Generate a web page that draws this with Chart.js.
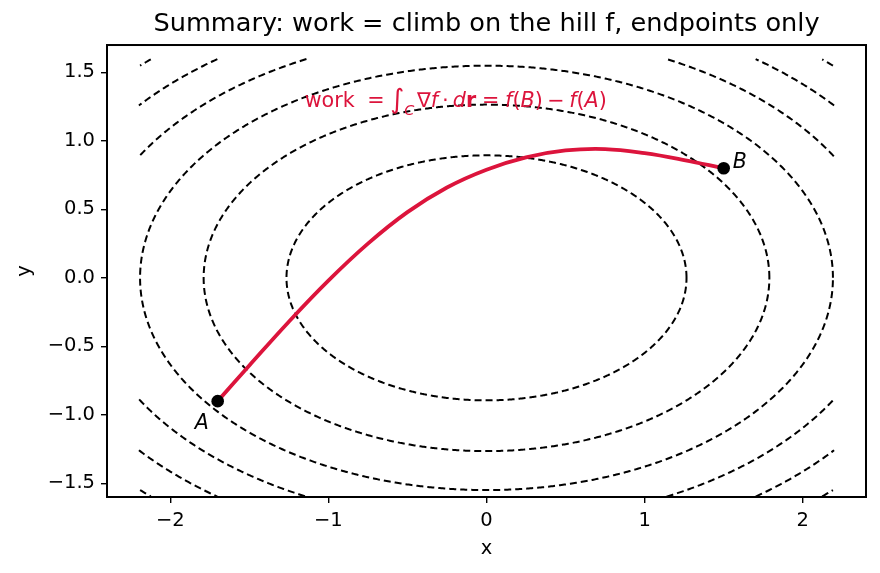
<!DOCTYPE html>
<html>
<head>
<meta charset="utf-8">
<script src="https://cdn.jsdelivr.net/npm/chart.js@4.4.1/dist/chart.umd.min.js"></script>
<style>
  html, body { margin: 0; padding: 0; background: #fff; }
  canvas { display: block; }
</style>
</head>
<body>
<canvas id="hillChart" width="880" height="573"></canvas>
<script>
// tick labels
const xTicks = [-2, -1, 0, 1, 2];
const yTicks = [-1.5, -1.0, -0.5, 0.0, 0.5, 1.0, 1.5];

// the path C
const pathX = [-1.70, -1.50, -1.25, -1.00, -0.75, -0.50, -0.25, 0.00, 0.25, 0.50, 0.75, 1.00, 1.25, 1.50];
const pathY = [-0.90, -0.64, -0.32, -0.02, 0.25, 0.48, 0.66, 0.79, 0.88, 0.93, 0.94, 0.91, 0.86, 0.80];

// endpoints
const endX = [-1.7, 1.5];
const endY = [-0.9, 0.8];
const endNames = ['A', 'B'];

// contour levels of f = x^2 + 2 y^2 (axes ratio read from the ellipses)
const levels = [1.6, 3.2, 4.8, 6.4, 8.0, 9.6];
const yWeight = 2;
const gridX = [-2.2, 2.2];
const gridY = [-1.6, 1.6];

const red = '#dc143c';
const fontFam = '"DejaVu Sans"';
const tickSize = 19.5;

function levelLine(level) {
  const pts = [];
  const rx = Math.sqrt(level), ry = Math.sqrt(level / yWeight);
  const n = 1440;
  for (let i = 0; i <= n; i++) {
    const t = 2 * Math.PI * i / n;
    const px = rx * Math.cos(t), py = ry * Math.sin(t);
    const inside = px >= gridX[0] && px <= gridX[1] && py >= gridY[0] && py <= gridY[1];
    pts.push(inside ? { x: px, y: py } : { x: px, y: null });
  }
  return pts;
}

const contourSets = levels.map(lv => ({
  data: levelLine(lv),
  showLine: true,
  spanGaps: false,
  borderColor: '#000',
  borderWidth: 2,
  borderDash: [7, 4],
  pointRadius: 0,
  order: 3
}));

// text of the annotation: text, style, size factor, drop (em), space after (em)
const formula = [
  ['work', '', 1, 0, 0.6],
  ['=', '', 1, 0, 0.28],
  ['\u222B', '', 1.3, 0.06, 0],
  ['C', 'italic ', 0.7, 0.42, 0.12],
  ['\u2207', '', 1, 0, 0],
  ['f', 'italic ', 1, 0, 0.2],
  ['\u22C5', '', 1, 0, 0.2],
  ['d', 'italic ', 1, 0, 0],
  ['r', 'bold ', 1, 0, 0.28],
  ['=', '', 1, 0, 0.28],
  ['f', 'italic ', 1, 0, 0],
  ['(', '', 1, 0, 0],
  ['B', 'italic ', 1, 0, 0],
  [')', '', 1, 0, 0.22],
  ['\u2212', '', 1, 0, 0.22],
  ['f', 'italic ', 1, 0, 0],
  ['(', '', 1, 0, 0],
  ['A', 'italic ', 1, 0, 0],
  [')', '', 1, 0, 0]
];
const noteX = -1.15, noteY = 1.25, noteSize = 20.7;
const nameOffsets = [[-23, 28], [9, 0]];

const overlay = {
  id: 'overlay',
  afterDatasetsDraw(chart) {
    const { ctx, scales: { x, y } } = chart;
    ctx.save();
    ctx.textBaseline = 'alphabetic';
    ctx.textAlign = 'left';

    ctx.fillStyle = '#000';
    ctx.font = 'italic 20.5px ' + fontFam;
    endNames.forEach((name, i) => {
      const px = x.getPixelForValue(endX[i]), py = y.getPixelForValue(endY[i]);
      ctx.fillText(name, px + nameOffsets[i][0], py + nameOffsets[i][1]);
    });

    let cx = x.getPixelForValue(noteX);
    const by = y.getPixelForValue(noteY);
    ctx.fillStyle = red;
    formula.forEach(([t, style, k, drop, after]) => {
      ctx.font = style + (noteSize * k) + 'px ' + fontFam;
      ctx.fillText(t, cx, by + drop * noteSize);
      cx += ctx.measureText(t).width + after * noteSize;
    });
    ctx.restore();
  },
  afterDraw(chart) {
    const { ctx, chartArea: a } = chart;
    ctx.save();
    ctx.strokeStyle = '#000';
    ctx.lineWidth = 2;
    ctx.strokeRect(a.left, a.top, a.right - a.left, a.bottom - a.top);
    ctx.restore();
  }
};

Chart.defaults.font.family = fontFam;
Chart.defaults.color = '#000';

const ctx = document.getElementById('hillChart').getContext('2d');
const hillChart = new Chart(ctx, {
  type: 'scatter',
  data: {
    datasets: [
      ...contourSets,
      {
        data: pathX.map((v, i) => ({ x: v, y: pathY[i] })),
        showLine: true,
        borderColor: red,
        borderWidth: 3.8,
        tension: 0.4,
        pointRadius: 0,
        order: 2
      },
      {
        data: endX.map((v, i) => ({ x: v, y: endY[i] })),
        showLine: false,
        pointRadius: 6.3,
        pointBackgroundColor: '#000',
        pointBorderWidth: 0,
        order: 1
      }
    ]
  },
  options: {
    responsive: false,
    animation: false,
    events: [],
    layout: { padding: { top: 0, right: 14, bottom: 0, left: 0 } },
    scales: {
      x: {
        type: 'linear',
        min: -2.4,
        max: 2.4,
        afterBuildTicks: s => { s.ticks = xTicks.map(v => ({ value: v })); },
        afterFit: s => { s.height = 76; },
        ticks: {
          font: { size: tickSize },
          padding: 6.5,
          maxRotation: 0,
          callback: v => String(v).replace('-', '\u2212')
        },
        grid: { drawOnChartArea: false, drawTicks: true, tickLength: 6, color: '#000', lineWidth: 1.4 },
        border: { display: false },
        title: { display: true, text: 'x', font: { size: tickSize }, padding: { top: 0, bottom: 12.3 } }
      },
      y: {
        type: 'linear',
        min: -1.6,
        max: 1.7,
        afterBuildTicks: s => { s.ticks = yTicks.map(v => ({ value: v })); },
        afterFit: s => { s.width = 107; },
        ticks: {
          font: { size: tickSize },
          padding: 6,
          callback: v => Number(v).toFixed(1).replace('-', '\u2212')
        },
        grid: { drawOnChartArea: false, drawTicks: true, tickLength: 6, color: '#000', lineWidth: 1.4 },
        border: { display: false },
        title: { display: true, text: 'y', font: { size: tickSize }, padding: { top: 13.3, bottom: 0 } }
      }
    },
    plugins: {
      legend: { display: false },
      tooltip: { enabled: false },
      title: {
        display: true,
        fullSize: false,
        text: 'Summary: work = climb on the hill f, endpoints only',
        color: '#000',
        font: { size: 25.6, weight: 'normal' },
        padding: { top: 9, bottom: 5.3 }
      }
    }
  },
  plugins: [overlay]
});
</script>
</body>
</html>
